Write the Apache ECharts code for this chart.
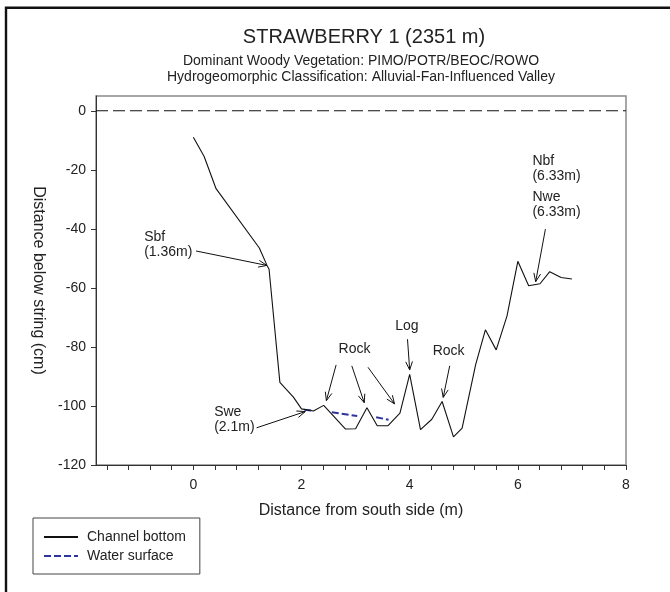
<!DOCTYPE html>
<html><head><meta charset="utf-8">
<script src="https://cdn.jsdelivr.net/npm/echarts@6/dist/echarts.min.js"></script>
<style>html,body{margin:0;padding:0;background:#fff}#c{width:670px;height:592px}</style>
</head><body><div id="c"></div>
<script>
// ---- data ----
const distance = [0, 0.2, 0.42, 1.22, 1.36, 1.4, 1.6, 1.85, 2.0, 2.22, 2.41, 2.81, 3.0, 3.21, 3.4, 3.6, 3.82, 4.0, 4.2, 4.41, 4.6, 4.81, 4.97, 5.22, 5.4, 5.6, 5.8, 6.0, 6.2, 6.41, 6.59, 6.8, 7.0];
const bottomDepth = [-9, -15.5, -26.4, -46.5, -52.3, -53.7, -92, -97, -101, -101.7, -99.8, -107.8, -107.7, -100.6, -106.7, -106.7, -102.4, -89.3, -108, -104.5, -98.5, -110.5, -107.5, -86, -74.2, -81, -69.5, -51, -59.3, -58.6, -54.5, -56.5, -57];
const waterX = [2.05, 2.22, null, 2.56, 3.03, null, 3.38, 3.61];
const waterDepth = [-101.3, -101.6, null, -102.1, -103.4, null, -103.8, -104.7];
const stringX = [-1.8, 8];
const stringDepth = [0, 0];
const xTicks = [-1.6, -1.2, -0.8, -0.4, 0, 0.4, 0.8, 1.2, 1.6, 2, 2.4, 2.8, 3.2, 3.6, 4, 4.4, 4.8, 5.2, 5.6, 6, 6.4, 6.8, 7.2, 7.6, 8];
const xLabels = [0, 2, 4, 6, 8];
const yLabels = [-120, -100, -80, -60, -40, -20, 0];
const annotations = [
  {text: 'Sbf\n(1.36m)', at: [-0.91, -40.3], align: 'left', arrows: [[[0.05, -47.5], [1.36, -52.4]]]},
  {text: 'Swe\n(2.1m)', at: [0.385, -99.7], align: 'left', arrows: [[[1.17, -107.4], [2.07, -101.9]]]},
  {text: 'Rock', at: [2.98, -78.3], align: 'center', arrows: [[[2.64, -86.1], [2.46, -98.2]], [[2.93, -86.4], [3.16, -98.9]], [[3.23, -86.9], [3.72, -99.3]]]},
  {text: 'Log', at: [3.95, -70.5], align: 'center', arrows: [[[3.96, -77.4], [4.0, -87.8]]]},
  {text: 'Rock', at: [4.72, -79], align: 'center', arrows: [[[4.74, -86.4], [4.62, -97.1]]]},
  {text: 'Nbf\n(6.33m)', at: [6.27, -14.6], align: 'left', arrows: []},
  {text: 'Nwe\n(6.33m)', at: [6.27, -26.8], align: 'left', arrows: [[[6.51, -40.1], [6.33, -57.9]]]}
];
const titleText = 'STRAWBERRY 1 (2351 m)';
const subText1 = 'Dominant Woody Vegetation: PIMO/POTR/BEOC/ROWO';
const subText2 = 'Hydrogeomorphic Classification: Alluvial-Fan-Influenced Valley';

// ---- chart ----
const FONT = "'Liberation Sans', Arial, Helvetica, sans-serif";
const TXT = '#222';
const chart = echarts.init(document.getElementById('c'));
const option = {
  animation: false,
  textStyle: {fontFamily: FONT},
  grid: {left: 96, right: 44, top: 96, bottom: 127, show: true, borderColor: '#8a8a8a', borderWidth: 1.5, backgroundColor: 'transparent'},
  xAxis: {
    type: 'value', min: -1.8, max: 8,
    name: 'Distance from south side (m)', nameLocation: 'middle', nameGap: 38,
    nameTextStyle: {fontSize: 16, color: TXT, fontFamily: FONT},
    axisLine: {onZero: false, lineStyle: {color: '#333', width: 1}},
    axisTick: {customValues: xTicks, length: 5, lineStyle: {color: '#333'}},
    axisLabel: {customValues: xLabels, fontSize: 14, margin: 13, color: TXT, fontFamily: FONT},
    splitLine: {show: false}
  },
  yAxis: {
    type: 'value', min: -120, max: 5,
    name: 'Distance below string (cm)', nameLocation: 'middle', nameGap: 50, nameRotate: -90,
    nameTextStyle: {fontSize: 16, color: TXT, fontFamily: FONT},
    axisLine: {show: true, onZero: false, lineStyle: {color: '#333', width: 1}},
    axisTick: {show: true, customValues: yLabels, length: 5, lineStyle: {color: '#333'}},
    axisLabel: {customValues: yLabels, fontSize: 14, margin: 10, color: TXT, fontFamily: FONT},
    splitLine: {show: false}
  },
  legend: {
    orient: 'vertical', left: 33, top: 518,
    data: ['Channel bottom', 'Water surface'],
    borderColor: '#444', borderWidth: 1, borderRadius: 0,
    padding: [12, 14, 11, 10], itemGap: 5, itemWidth: 34, itemHeight: 14,
    itemStyle: {opacity: 0},
    textStyle: {fontSize: 14, color: TXT, fontFamily: FONT, padding: [0, 0, 0, 4]}
  },
  series: [
    {name: 'String', type: 'line', data: stringX.map((x, i) => [x, stringDepth[i]]), symbol: 'none',
     lineStyle: {color: '#111', width: 1, type: [12, 5]}, itemStyle: {color: '#111'}, silent: true, z: 1},
    {name: 'Channel bottom', type: 'line', data: distance.map((x, i) => [x, bottomDepth[i]]), symbol: 'none',
     lineStyle: {color: '#111', width: 1.1}, itemStyle: {color: '#111'}, z: 3},
    {name: 'Water surface', type: 'line', data: waterX.map((x, i) => x === null ? [waterX[i - 1], '-'] : [x, waterDepth[i]]),
     symbol: 'none', connectNulls: false, itemStyle: {color: '#2f3499'},
     lineStyle: {color: '#2f3499', width: 2, type: [7, 3]}, z: 2}
  ]
};
chart.setOption(option);

function buildGraphics() {
  const g = [];
  // outer frame
  g.push({type: 'rect', shape: {x: 6, y: 7.8, width: 800, height: 800}, style: {fill: 'none', stroke: '#111', lineWidth: 2.4}, silent: true});
  // titles
  const cx = 361;
  g.push({type: 'text', style: {text: titleText, x: cx + 3, y: 37, align: 'center', verticalAlign: 'middle', font: '20px ' + FONT, fill: TXT}});
  g.push({type: 'text', style: {text: subText1, x: cx, y: 61.5, align: 'center', verticalAlign: 'middle', font: '14px ' + FONT, fill: TXT}});
  g.push({type: 'text', style: {text: subText2, x: cx, y: 77.5, align: 'center', verticalAlign: 'middle', font: '14px ' + FONT, fill: TXT}});
  // annotations
  annotations.forEach(a => {
    const p = chart.convertToPixel({gridIndex: 0}, a.at);
    g.push({type: 'text', style: {text: a.text, x: p[0], y: p[1], align: a.align, verticalAlign: 'top', font: '14px ' + FONT, lineHeight: 15, fill: TXT}});
    a.arrows.forEach(ar => {
      const t = chart.convertToPixel({gridIndex: 0}, ar[0]);
      const h = chart.convertToPixel({gridIndex: 0}, ar[1]);
      const dx = h[0] - t[0], dy = h[1] - t[1];
      const len = Math.hypot(dx, dy);
      const ux = dx / len, uy = dy / len;
      const L = 9, ang = 22 * Math.PI / 180;
      const c = Math.cos(ang), s = Math.sin(ang);
      const w1 = [h[0] - L * (ux * c - uy * s), h[1] - L * (uy * c + ux * s)];
      const w2 = [h[0] - L * (ux * c + uy * s), h[1] - L * (uy * c - ux * s)];
      g.push({type: 'line', shape: {x1: t[0], y1: t[1], x2: h[0], y2: h[1]}, style: {stroke: '#111', lineWidth: 1}});
      g.push({type: 'polyline', shape: {points: [w1, h, w2]}, style: {stroke: '#111', lineWidth: 1, fill: 'none'}});
    });
  });
  return g;
}
chart.setOption({graphic: buildGraphics()});
</script>
</body></html>
